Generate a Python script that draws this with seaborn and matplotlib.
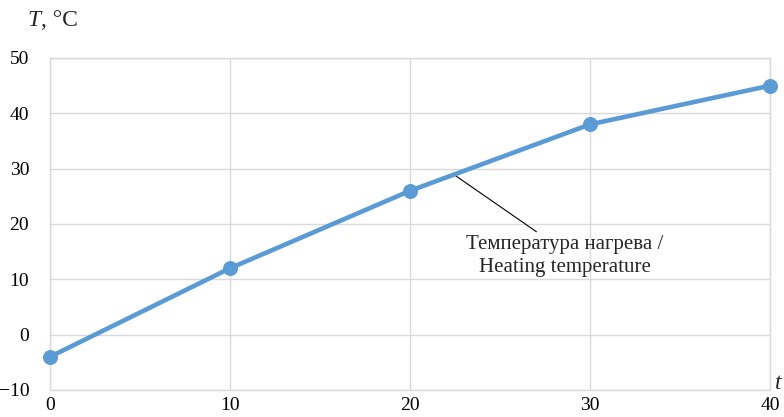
import pandas as pd
import matplotlib.pyplot as plt
import seaborn as sns

# Data
time_points = [0, 10, 20, 30, 40]
temperature = [-4, 12, 26, 38, 45]
x_ticks = [0, 10, 20, 30, 40]
y_ticks = [-10, 0, 10, 20, 30, 40, 50]

df = pd.DataFrame({"t": time_points, "T": temperature})

sns.set_theme(style="whitegrid")
plt.rcParams["font.family"] = ["Liberation Serif", "DejaVu Serif"]

fig = plt.figure(figsize=(7.84, 4.17), dpi=100)
ax = fig.add_axes([50 / 784, 1 - 390 / 417, 720 / 784, 332 / 417])

sns.lineplot(data=df, x="t", y="T", ax=ax, color="#5B9BD5", linewidth=3.3,
             marker="o", markersize=10, markeredgecolor="#5B9BD5", clip_on=False,
             zorder=5)

ax.set_xlim(0, 40)
ax.set_ylim(-10, 50)
ax.set_xticks(x_ticks)
ax.set_yticks(y_ticks)
ax.set_yticklabels(["\u221210" if v < 0 else str(v) for v in y_ticks])
ax.tick_params(axis="both", labelsize=14, length=0, colors="black")
ax.tick_params(axis="x", pad=5)
ax.tick_params(axis="y", pad=15)
ax.grid(True, color="#D9D9D9", linewidth=1)
for s in ax.spines.values():
    s.set_color("#D9D9D9")
    s.set_linewidth(1)
ax.set_xlabel("")
ax.set_ylabel("")

# Axis titles
fig.text(27 / 784, 1 - 21 / 417, "T", fontsize=17, style="italic", va="center", ha="left")
fig.text(41 / 784, 1 - 21 / 417, ", °C", fontsize=17, va="center", ha="left")
fig.text(775 / 784, 1 - 394 / 417, "t", fontsize=17, style="italic", va="bottom", ha="left")

# Annotation
ax.annotate("Температура нагрева /\nHeating temperature", xy=(22.5, 28.8),
            xytext=(28.6, 14.2), ha="center", va="center", fontsize=15,
            linespacing=1.3,
            arrowprops=dict(arrowstyle="-", color="black", linewidth=0.8,
                            shrinkA=0, shrinkB=0, relpos=(0.38, 1.0)))

fig.savefig("out.png", dpi=100)
